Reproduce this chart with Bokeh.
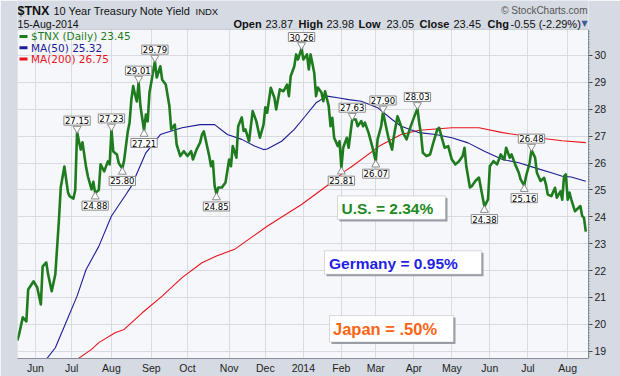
from bokeh.plotting import figure
from bokeh.models import Range1d, FixedTicker, Label, BoxAnnotation
from bokeh.embed import file_html
from bokeh.resources import INLINE

# ---------------- data (trading-day index, 0 = 3-Jun-2013) ----------------
day = [-10, -9, -7, -5, -4, -1, 1, 3, 4, 6, 7, 9, 11, 13, 14, 16, 18, 19, 21, 22,
       23, 25, 26, 28, 29, 31, 32, 33, 35, 36, 38, 40, 41, 42, 43, 45, 46, 48, 49, 51,
       52, 53, 54, 55, 56, 57, 58, 60, 61, 62, 63, 64, 66, 67, 69, 70, 72, 74, 75, 77,
       78, 80, 82, 84, 86, 87, 89, 91, 92, 93, 94, 96, 97, 98, 99, 100, 101, 103, 105, 107,
       108, 109, 111, 112, 114, 115, 116, 118, 120, 122, 124, 126, 127, 128, 130, 132, 133, 135, 137, 139,
       140, 141, 143, 144, 145, 147, 148, 150, 151, 152, 154, 155, 156, 158, 159, 160, 162, 163, 164, 165,
       167, 168, 169, 170, 172, 173, 175, 177, 178, 180, 181, 182, 184, 186, 188, 189, 191, 192, 194, 195,
       197, 198, 200, 202, 203, 205, 207, 209, 211, 212, 213, 214, 216, 218, 220, 222, 223, 224, 226, 228,
       230, 232, 234, 236, 237, 238, 240, 241, 243, 245, 246, 248, 250, 251, 253, 255, 257, 259, 260, 262,
       263, 265, 267, 268, 270, 271, 273, 274, 276, 277, 279, 281, 282, 283, 285, 287, 288, 290, 291, 292,
       293, 294, 295, 296, 298, 299, 301, 302, 303, 304]
close = [19.40, 19.63, 20.26, 20.11, 21.30, 21.60, 21.37, 20.74, 22.16, 22.30, 21.86, 21.23, 21.86, 23.90, 25.10, 25.87, 24.90, 24.76, 24.68, 25.00,
         27.15, 26.50, 26.77, 25.84, 25.50, 25.02, 25.30, 24.88, 25.00, 25.95, 25.69, 26.06, 25.95, 27.23, 26.43, 26.32, 26.00, 25.80, 26.10, 27.17,
         27.50, 28.36, 28.86, 28.55, 28.29, 29.01, 28.12, 27.21, 27.80, 27.55, 28.62, 29.00, 29.79, 29.18, 29.60, 29.10, 28.92, 28.12, 27.25, 27.43,
         26.69, 26.26, 26.44, 26.26, 26.44, 26.13, 26.50, 26.77, 27.06, 27.18, 26.88, 26.26, 25.88, 26.07, 25.14, 24.85, 25.09, 25.09, 25.28, 26.13,
         25.88, 26.63, 26.20, 27.37, 27.70, 27.19, 27.25, 26.81, 27.93, 27.56, 26.94, 27.43, 28.07, 27.87, 28.80, 28.43, 27.99, 28.74, 28.67, 28.92,
         28.49, 29.23, 29.60, 30.04, 29.85, 30.26, 29.85, 30.04, 29.48, 30.04, 29.36, 28.49, 28.81, 28.62, 28.30, 28.67, 28.12, 27.37, 27.68, 26.94,
         26.63, 26.81, 25.81, 26.57, 26.94, 26.57, 27.63, 27.62, 27.37, 27.56, 27.37, 27.50, 27.13, 26.63, 26.07, 26.88, 27.37, 27.90, 27.25, 26.94,
         26.50, 27.00, 27.74, 27.37, 27.13, 26.88, 27.31, 27.68, 28.03, 27.50, 27.06, 26.38, 26.26, 26.32, 26.81, 27.25, 27.31, 27.06, 26.57, 26.63,
         26.13, 25.95, 26.07, 26.26, 26.57, 25.88, 25.09, 25.14, 25.33, 25.46, 25.09, 24.38, 24.65, 25.88, 26.07, 25.95, 26.32, 26.13, 26.57, 26.20,
         26.32, 25.95, 25.64, 25.39, 25.16, 25.51, 26.01, 26.48, 26.20, 25.64, 25.33, 25.45, 25.20, 24.83, 24.77, 25.08, 24.71, 24.95, 24.64, 25.51,
         25.58, 24.64, 24.90, 24.64, 24.21, 24.27, 24.40, 24.03, 23.97, 23.45]

ma50_day = [6, 11, 16, 23, 28, 35, 42, 50, 53, 57, 61, 64, 69, 72, 81, 91, 99, 106, 114, 121,
            126, 128, 136, 143, 149, 155, 161, 167, 173, 180, 189, 197, 202, 212, 221, 230, 239, 248, 258, 267,
            276, 285, 291, 296, 304]
ma50 = [18.70, 19.13, 19.93, 21.05, 22.04, 22.90, 24.03, 24.83, 25.14, 25.76, 26.38, 26.63, 27.06, 27.13, 27.31, 27.43, 27.43, 27.06, 26.88, 26.63,
        26.50, 26.52, 26.81, 27.25, 27.74, 28.24, 28.49, 28.43, 28.36, 28.30, 28.06, 27.62, 27.37, 27.13, 27.06, 26.94, 26.75, 26.44, 26.13, 26.01,
        25.82, 25.64, 25.51, 25.48, 25.32]

ma200_day = [22, 31, 35, 44, 49, 59, 70, 81, 92, 100, 110, 128, 147, 162, 171, 175, 190, 202, 212, 230,
             245, 258, 276, 291, 304]
ma200 = [18.65, 19.07, 19.32, 19.69, 19.81, 20.43, 21.05, 21.74, 22.29, 22.54, 22.79, 23.65, 24.46, 25.20, 25.70, 25.88, 26.63, 27.06, 27.22, 27.31,
         27.31, 27.13, 26.95, 26.83, 26.76]

peak_day = [23, 42, 57, 66, 147, 175, 192, 211, 274]
peak_val = [27.15, 27.23, 29.01, 29.79, 30.26, 27.63, 27.90, 28.03, 26.48]
trough_day = [33, 48, 60, 100, 169, 188, 248, 270]
trough_val = [24.88, 25.80, 27.21, 24.85, 25.81, 26.07, 24.38, 25.16]

month_day = [0, 20, 42, 64, 84, 107, 127, 148, 169, 188, 209, 230, 251, 272, 294]
month_label = ["Jun", "Jul", "Aug", "Sep", "Oct", "Nov", "Dec", "2014", "Feb", "Mar", "Apr", "May", "Jun", "Jul", "Aug"]
y_ticks = [19, 20, 21, 22, 23, 24, 25, 26, 27, 28, 29, 30]

symbol = "$TNX"
name = "10 Year Treasury Note Yield"
exchange = "INDX"
date_str = "15-Aug-2014"
stats = [("Open", "23.87"), ("High", "23.98"), ("Low", "23.05"), ("Close", "23.45"), ("Chg", "-0.55 (-2.29%)")]
legend_items = [("$TNX (Daily) 23.45", "#1e7b1e"), ("MA(50) 25.32", "#1c1c96"), ("MA(200) 26.75", "#e8141b")]
notes = [("U.S. = 2.34%", "#1f8a1f"), ("Germany = 0.95%", "#1f1fe6"), ("Japan = .50%", "#ff6414")]

# ---------------- layout constants (page px) ----------------
W, H = 620, 376
FL, FT, FR, FB = 17, 29, 588, 359      # chart panel edges
XMIN, XMAX = -9.9, 305.5
YMIN, YMAX = 18.73, 30.97
BG = "#d5dae3"
SANS = "Liberation Sans"
VERD = "DejaVu Sans"

ppx = (XMAX - XMIN) / (FR - FL)     # data x per page px
ppy = (YMAX - YMIN) / (FB - FT)     # data y per page px
YTOP = YMAX + FT * ppy              # frame reaches the page top; header strip lives there


def dx(px):
    return XMIN + (px - FL) * ppx


def dy(py):
    return YTOP - py * ppy


p = figure(width=W, height=H, output_backend="svg", toolbar_location=None,
           x_range=Range1d(XMIN, XMAX), y_range=Range1d(YMIN, YTOP),
           y_axis_location="right",
           min_border_left=FL, min_border_top=0, min_border_right=W - FR, min_border_bottom=H - FB)
p.background_fill_color = "#f6f7fb"
p.border_fill_color = BG
p.outline_line_color = None

yax = p.yaxis[0]
yax.bounds = (YMIN, YMAX)
yax.ticker = FixedTicker(ticks=y_ticks, minor_ticks=[18.8 + 0.1 * k for k in range(122)])
yax.major_label_text_font = SANS
yax.major_label_text_font_size = "10.5px"
yax.major_label_text_color = "#222222"
yax.axis_line_color = "#8a8f99"
yax.major_tick_line_color = "#444444"
yax.major_tick_in = 0
yax.major_tick_out = 4
yax.minor_tick_in = 0
yax.minor_tick_out = 1
yax.minor_tick_line_color = "#777777"
yax.major_label_standoff = 2

xax = p.xaxis[0]
xax.ticker = FixedTicker(ticks=month_day)
xax.major_label_overrides = {d: lab for d, lab in zip(month_day, month_label)}
xax.major_label_text_font = SANS
xax.major_label_text_font_size = "10.5px"
xax.major_label_text_color = "#222222"
xax.axis_line_color = "#8a8f99"
xax.major_tick_line_color = None
xax.minor_tick_line_color = None
xax.major_tick_out = 0
xax.major_tick_in = 0
xax.major_label_standoff = 3

p.xgrid.grid_line_color = "#d9dbe2"
p.ygrid.grid_line_color = "#d9dbe2"

# lines
p.line(ma200_day, ma200, line_color="#e8141b", line_width=1.1)
p.line(ma50_day, ma50, line_color="#1c1c96", line_width=1.1)
p.line(day, close, line_color="#1e7b1e", line_width=2.6, line_join="round")

# callouts
off = 3.5 * ppy
p.scatter(peak_day, [v + off for v in peak_val], marker="inverted_triangle", size=8,
          fill_color="white", line_color="#8c8c8c")
p.scatter(trough_day, [v - off for v in trough_val], marker="triangle", size=8,
          fill_color="white", line_color="#8c8c8c")
for d, v in zip(peak_day, peak_val):
    p.add_layout(Label(x=d, y=v, text=f"{v:.2f}", text_align="center", text_baseline="bottom",
                       y_offset=7, text_font=VERD, text_font_size="8.5px", text_color="black",
                       background_fill_color="white", border_line_color="#8c8c8c", padding=1))
for d, v in zip(trough_day, trough_val):
    p.add_layout(Label(x=d, y=v, text=f"{v:.2f}", text_align="center", text_baseline="top",
                       y_offset=-8, text_font=VERD, text_font_size="8.5px", text_color="black",
                       background_fill_color="white", border_line_color="#8c8c8c", padding=1))


def box(l, t, r, b, **kw):
    p.add_layout(BoxAnnotation(left=dx(l), right=dx(r), top=dy(t), bottom=dy(b), **kw))


def lab(text, x, y, size, color="#111111", font=SANS, style="normal", align="left"):
    p.add_layout(Label(x=dx(x), y=dy(y), text=text, text_font=font, text_font_size=size,
                       text_color=color, text_font_style=style, text_align=align,
                       text_baseline="middle"))


# header strip (covers the top of the frame) and chart panel border
box(FL - 1, -1, FR + 1, FT, fill_color=BG, fill_alpha=1, line_color=None)
box(FL, FT, FR, FB, fill_color=None, line_color="#8a8f99", line_width=1)

lab(symbol, 17, 10.5, "12.5px", style="bold")
lab(name, 53, 10.5, "11px")
lab(exchange, 195, 11, "9.5px")
lab(date_str, 17, 23.5, "10.6px")
lab("\u00a9 StockCharts.com", 587, 10.5, "10px", color="#555555", align="right")
xs = [(233, 265), (298, 326), (358, 386), (419, 453), (487, 510)]
for (k, v), (xk, xv) in zip(stats, xs):
    lab(k, xk, 24, "11px", style="bold")
    lab(v, xv, 24, "11px")
lab("\u25bc", 584, 23.5, "8px", color="#3b5b99", font=VERD, align="center")

# note boxes
note_boxes = [(337, 196, 445, 219.5, 341, 15.5), (324, 251, 481, 274.5, 328.5, 15.5), (329, 316, 453, 342.5, 332.5, 16.5)]
for (txt, col), (l, t, r, b, tx, fs) in zip(notes, note_boxes):
    box(l + 2, t + 2, r + 2, b + 2, fill_color="#9a9ea6", fill_alpha=1, line_color=None)
    box(l, t, r, b, fill_color="white", fill_alpha=1, line_color="#8c8c8c", line_width=1)
    lab(txt, tx, (t + b) / 2 + 0.5, f"{fs}px", color=col, style="bold")

# legend
for k, (txt, col) in enumerate(legend_items):
    yy = 36 + 11.3 * k
    box(19, yy - 1.5, 27, yy + 1.5, fill_color=col, fill_alpha=1, line_color=None)
    lab(txt, 30.5, yy, "10.5px", color=col, font=VERD)

open("out.html", "w").write(file_html(p, INLINE))
